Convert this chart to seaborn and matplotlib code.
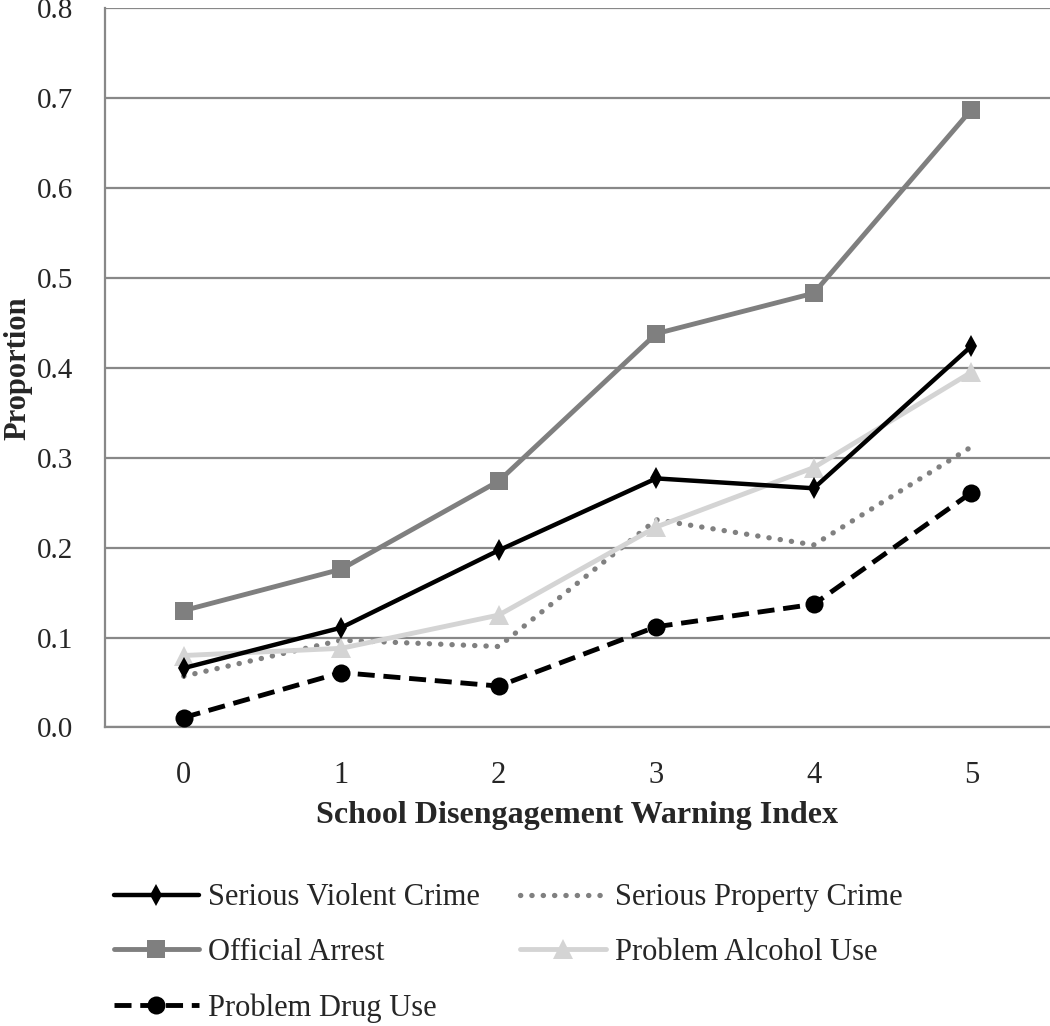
import pandas as pd
import matplotlib.pyplot as plt
import seaborn as sns
import numpy as np

index_levels = [0, 1, 2, 3, 4, 5]

serious_violent = [0.066, 0.111, 0.197, 0.277, 0.266, 0.424]
serious_property = [0.057, 0.097, 0.090, 0.231, 0.203, 0.312]
official_arrest = [0.130, 0.176, 0.274, 0.438, 0.483, 0.687]
problem_alcohol = [0.080, 0.088, 0.125, 0.223, 0.289, 0.395]
problem_drug = [0.011, 0.061, 0.046, 0.112, 0.137, 0.261]

series_names = ['Serious Violent Crime', 'Serious Property Crime', 'Official Arrest',
                'Problem Alcohol Use', 'Problem Drug Use']


def build_df():
    cols = [serious_violent, serious_property, official_arrest, problem_alcohol, problem_drug]
    rows = []
    for name, vals in zip(series_names, cols):
        for x, v in zip(index_levels, vals):
            rows.append({'Index': x, 'Proportion': v, 'Series': name})
    return pd.DataFrame(rows)


def main():
    sns.set_style('white')
    plt.rcParams['font.family'] = ['Liberation Serif', 'DejaVu Serif']

    df = build_df()
    fig = plt.figure(figsize=(10.5, 10.26), dpi=100)
    ax = fig.add_axes([0.1, 0.291, 0.9, 0.701])

    styles = {
        'Serious Violent Crime': dict(color='black', lw=3.2, ls='-', marker='d', ms=11, zorder=5),
        'Serious Property Crime': dict(color='#808080', lw=3.8, ls=(0, (0.05, 2.1)), marker=None, ms=0,
                                       zorder=3, dash_capstyle='round'),
        'Official Arrest': dict(color='#7f7f7f', lw=3.5, ls='-', marker='s', ms=13, zorder=4),
        'Problem Alcohol Use': dict(color='#d4d4d4', lw=3.5, ls='-', marker='^', ms=14, zorder=4),
        'Problem Drug Use': dict(color='black', lw=3.5, ls=(0, (3.5, 1.8)), marker='o', ms=13, zorder=5),
    }

    for name in series_names:
        st = dict(styles[name])
        sub = df[df['Series'] == name]
        sns.lineplot(data=sub, x='Index', y='Proportion', ax=ax, label=name,
                     color=st.pop('color'), linewidth=st.pop('lw'), linestyle=st.pop('ls'),
                     marker=st.pop('marker'), markersize=st.pop('ms'),
                     markeredgewidth=0, **st)

    ax.set_xlim(-0.5, 5.5)
    ax.set_ylim(0, 0.8)
    ax.set_yticks(np.arange(0, 0.81, 0.1))
    ax.set_yticklabels([f'{v:.1f}' for v in np.arange(0, 0.81, 0.1)])
    ax.set_xticks(index_levels)
    ax.set_xticks(np.arange(-0.5, 5.6, 1), minor=True)
    ax.tick_params(axis='x', which='major', length=0, labelsize=22, pad=24)
    ax.tick_params(axis='x', which='minor', length=8, width=1.5, color='#888888', direction='out')
    ax.tick_params(axis='y', length=9, width=1.5, color='#888888', labelsize=21, pad=14, direction='out')
    ax.yaxis.grid(True, color='#888888', lw=1.6)
    ax.set_axisbelow(True)

    for s in ['top', 'right']:
        ax.spines[s].set_visible(False)
    for s in ['left', 'bottom']:
        ax.spines[s].set_color('#888888')
        ax.spines[s].set_linewidth(1.6)

    ax.set_xlabel('School Disengagement Warning Index', fontsize=23, fontweight='bold', labelpad=8)
    ax.set_ylabel('Proportion', fontsize=22, fontweight='bold')
    ax.yaxis.set_label_coords(-0.077, 0.5)

    handles, labels = ax.get_legend_handles_labels()
    # legend fills column-wise; reorder so rows read left-to-right
    order = [0, 2, 4, 1, 3]
    ax.legend([handles[i] for i in order], [labels[i] for i in order],
              loc='upper left', bbox_to_anchor=(0.085, 0.163), bbox_transform=fig.transFigure,
              ncol=2, frameon=False, fontsize=22, handlelength=2.8, handletextpad=0.3,
              columnspacing=1.3, labelspacing=0.85, borderpad=0.3)

    plt.savefig('out.png', dpi=100)


if __name__ == '__main__':
    main()
